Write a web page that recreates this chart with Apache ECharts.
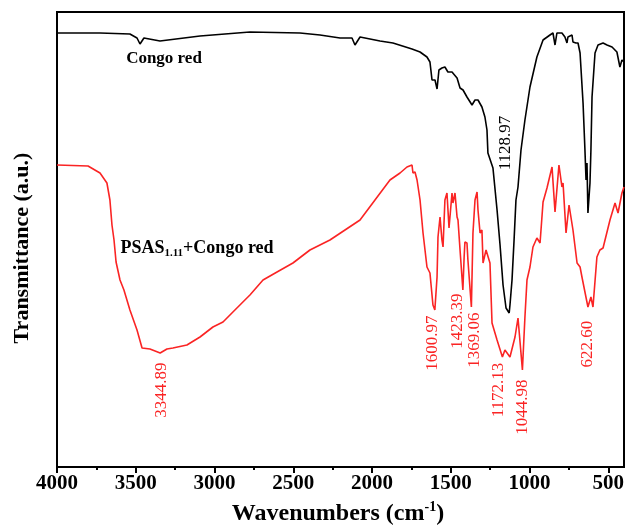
<!DOCTYPE html>
<html>
<head>
<meta charset="utf-8">
<script src="https://cdn.jsdelivr.net/npm/echarts@6/dist/echarts.min.js"></script>
<style>
  html, body { margin: 0; padding: 0; background: #fff; }
  #main { width: 626px; height: 527px; }
</style>
</head>
<body>
<div id="main"></div>
<script>
// Congo red spectrum (black)
var congoWn = [4000,3727,3537,3492,3473,3448,3346,3092,2775,2457,2330,2203,2127,2108,2076,1949,1867,1746,1695,1651,
  1632,1619,1613,1600,1587,1575,1556,1537,1518,1492,1460,1441,1422,1397,1365,1346,1327,1302,1283,1270,
  1264,1232,1206,1187,1168,1149,1129,1124,1111,1098,1086,1073,1054,1029,997,953,914,870,851,838,
  826,794,775,762,756,730,724,705,692,679,660,648,641,635,629,616,610,603,584,565,
  533,508,476,445,426,413,400];
var congoT = [434,434,433,429,423,429,426,431,435,434,432,429,429,422,430,426,424,418,415,410,
  405,387,385,387,378,397,399,400,395,395,389,379,377,370,362,367,367,360,350,337,
  314,299,257,222,182,159,154,162,187,227,267,280,317,347,380,410,427,432,434,422,
  434,434,430,424,430,432,425,424,424,414,364,317,287,304,254,284,317,370,414,422,
  424,422,420,415,400,407,405];

// PSAS1.11 + Congo red spectrum (red)
var mixWn = [4000,3803,3727,3683,3664,3651,3638,3625,3600,3575,3537,3492,3460,3410,3345,3302,3264,3175,3092,3010,
  2946,2883,2775,2692,2603,2502,2394,2267,2076,1886,1822,1778,1746,1740,1727,1714,1695,1676,1651,1632,
  1613,1601,1587,1581,1568,1556,1549,1537,1524,1511,1492,1486,1473,1460,1454,1441,1423,1415,1410,1397,
  1391,1369,1359,1346,1333,1327,1314,1302,1295,1276,1264,1251,1238,1206,1172,1156,1124,1092,1073,1045,
  1029,1016,997,978,953,933,914,889,857,838,813,794,787,768,749,724,698,679,667,629,
  610,597,572,553,533,489,457,438,413,400];
var mixT = [302,301,294,284,267,242,227,205,187,177,157,137,119,118,114,118,119,122,130,140,
  145,155,172,187,195,204,217,227,247,287,294,300,302,294,295,287,267,234,200,194,
  162,157,190,230,250,227,220,267,274,239,274,264,274,250,247,217,177,210,225,224,
  207,160,234,267,275,257,234,237,204,217,217,204,144,127,110,117,110,130,149,97,
  150,187,200,220,229,224,265,279,300,255,302,280,284,234,262,237,204,200,190,160,
  170,160,210,217,219,247,264,254,274,280];

var majorTicks = [500,1000,1500,2000,2500,3000,3500,4000];
var minorTicks = [750,1250,1750,2250,2750,3250,3750];

function zip(a, b) {
  var out = [];
  for (var i = 0; i < a.length; i++) out.push([a[i], b[i]]);
  return out;
}

var serif = '"Liberation Serif", "Times New Roman", serif';
var red = '#fa2424';

// rotated peak label (reads bottom to top)
function peakText(x, y, txt, color) {
  return { type: 'text', x: x, y: y, rotation: Math.PI / 2,
    style: { text: txt, font: '17px ' + serif, fill: color, align: 'center', verticalAlign: 'middle' } };
}

var myChart = echarts.init(document.getElementById('main'));

var option = {
  animation: false,
  backgroundColor: '#fff',
  grid: {
    left: 57, right: 2, top: 12, bottom: 60,
    show: true, borderColor: '#000', borderWidth: 2,
    outerBoundsMode: 'none'
  },
  xAxis: [
    {
      type: 'value', inverse: true, min: 400, max: 4000, position: 'bottom',
      axisLine: { show: false },
      splitLine: { show: false },
      axisTick: { show: true, customValues: majorTicks, length: 6, lineStyle: { color: '#000', width: 2 } },
      axisLabel: {
        customValues: majorTicks, margin: 6, color: '#000',
        fontFamily: serif, fontWeight: 'bold', fontSize: 21,
        formatter: function (v) { return String(v); }
      }
    },
    {
      type: 'value', inverse: true, min: 400, max: 4000, position: 'bottom',
      axisLine: { show: false },
      splitLine: { show: false },
      axisTick: { show: true, customValues: minorTicks, length: 3, lineStyle: { color: '#000', width: 2 } },
      axisLabel: { show: false }
    }
  ],
  yAxis: {
    type: 'value', min: 0, max: 455,
    axisLine: { show: false }, axisTick: { show: false },
    axisLabel: { show: false }, splitLine: { show: false }
  },
  series: [
    {
      name: 'Congo red', type: 'line', data: zip(congoWn, congoT),
      showSymbol: false, lineStyle: { color: '#000', width: 1.6 }
    },
    {
      name: 'PSAS1.11+Congo red', type: 'line', data: zip(mixWn, mixT),
      showSymbol: false, lineStyle: { color: red, width: 1.6 }
    }
  ],
  graphic: [
    { type: 'text', x: 164, y: 59, style: { text: 'Congo red', font: 'bold 17px ' + serif, fill: '#000', align: 'center', verticalAlign: 'middle' } },
    { type: 'text', x: 197, y: 248, style: {
        text: '{m|PSAS}{s|1.11}{m|+Congo red}', align: 'center', verticalAlign: 'middle',
        rich: {
          m: { font: 'bold 18px ' + serif, fill: '#000', lineHeight: 22 },
          s: { font: 'bold 11px ' + serif, fill: '#000', lineHeight: 8, verticalAlign: 'bottom' }
        }
    } },
    peakText(506, 143, '1128.97', '#000'),
    peakText(162, 390, '3344.89', red),
    peakText(433, 343, '1600.97', red),
    peakText(458, 321, '1423.39', red),
    peakText(475, 340, '1369.06', red),
    peakText(499, 390, '1172.13', red),
    peakText(523, 407, '1044.98', red),
    peakText(588, 344, '622.60', red),
    // axis titles
    { type: 'text', x: 22, y: 248, rotation: Math.PI / 2, style: { text: 'Transmittance (a.u.)', font: 'bold 22px ' + serif, fill: '#000', align: 'center', verticalAlign: 'middle' } },
    { type: 'text', x: 338, y: 514, style: {
        text: '{a|Wavenumbers (cm}{b|-1}{a|)}', align: 'center', verticalAlign: 'middle',
        rich: {
          a: { font: 'bold 24px ' + serif, fill: '#000', lineHeight: 28 },
          b: { font: 'bold 14px ' + serif, fill: '#000', lineHeight: 12, verticalAlign: 'top' }
        }
    } }
  ]
};

myChart.setOption(option);
</script>
</body>
</html>
